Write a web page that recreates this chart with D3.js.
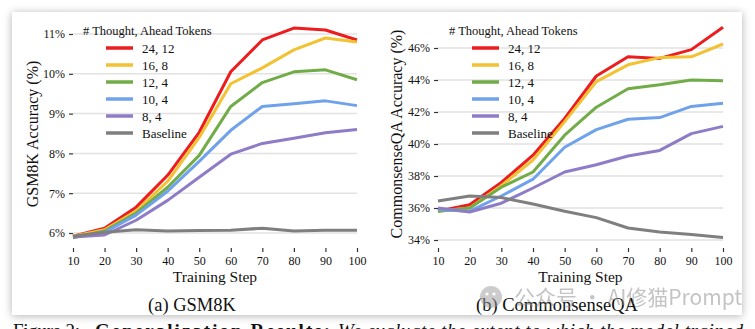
<!DOCTYPE html>
<html>
<head>
<meta charset="utf-8">
<script src="https://cdn.jsdelivr.net/npm/d3@7"></script>
<style>
  body { margin: 0; background: #fff; }
  svg { display: block; }
  .serif { font-family: "Liberation Serif", "Times New Roman", serif; fill: #111; }
</style>
</head>
<body>
<div id="chart"></div>
<script>
var steps = [10, 20, 30, 40, 50, 60, 70, 80, 90, 100];
var seriesNames = ['24, 12', '16, 8', '12, 4', '10, 4', '8, 4', 'Baseline'];

// GSM8K accuracy (%)
var gsm_24_12 = [5.92, 6.12, 6.65, 7.45, 8.53, 10.05, 10.85, 11.15, 11.1, 10.85];
var gsm_16_8 = [5.92, 6.08, 6.55, 7.3, 8.4, 9.75, 10.15, 10.6, 10.9, 10.8];
var gsm_12_4 = [5.88, 6.05, 6.5, 7.15, 7.95, 9.18, 9.78, 10.05, 10.1, 9.85];
var gsm_10_4 = [5.9, 6.02, 6.45, 7.05, 7.8, 8.58, 9.18, 9.25, 9.32, 9.2];
var gsm_8_4 = [5.9, 5.95, 6.32, 6.82, 7.4, 7.98, 8.25, 8.38, 8.52, 8.6];
var gsm_base = [5.92, 6.02, 6.08, 6.05, 6.06, 6.07, 6.12, 6.05, 6.07, 6.07];
var gsmTicks = [6, 7, 8, 9, 10, 11];

// CommonsenseQA accuracy (%)
var csqa_24_12 = [35.8, 36.2, 37.6, 39.3, 41.6, 44.25, 45.45, 45.35, 45.9, 47.3];
var csqa_16_8 = [35.8, 36.0, 37.4, 39.0, 41.4, 43.9, 44.95, 45.4, 45.45, 46.25];
var csqa_12_4 = [35.8, 36.0, 37.3, 38.25, 40.55, 42.3, 43.45, 43.7, 44.0, 43.95];
var csqa_10_4 = [35.9, 35.8, 36.75, 37.8, 39.8, 40.9, 41.55, 41.65, 42.35, 42.55];
var csqa_8_4 = [36.0, 35.75, 36.3, 37.25, 38.25, 38.7, 39.25, 39.6, 40.65, 41.1];
var csqa_base = [36.44, 36.75, 36.65, 36.25, 35.8, 35.4, 34.75, 34.5, 34.35, 34.15];
var csqaTicks = [34, 36, 38, 40, 42, 44, 46];

var colors = ['#ec1c1f', '#f2c232', '#72ac48', '#6fa2ea', '#8f7cc6', '#7f7f7f'];

var W = 755, H = 329;

var svg = d3.select('#chart').append('svg')
    .attr('width', W)
    .attr('height', H);

var defs = svg.append('defs');
var shadow = defs.append('filter').attr('id', 'shadow')
    .attr('x', '-10%').attr('y', '-10%').attr('width', '120%').attr('height', '130%');
shadow.append('feDropShadow')
    .attr('dx', 0).attr('dy', 1)
    .attr('stdDeviation', 4)
    .attr('flood-color', '#000')
    .attr('flood-opacity', 0.3);

// figure card
svg.append('rect')
    .attr('x', 12).attr('y', 12)
    .attr('width', 730).attr('height', 303)
    .attr('fill', '#fff')
    .attr('filter', 'url(#shadow)');

function drawPanel(opts) {
    var x = d3.scaleLinear().domain([10, 100]).range([opts.x0, opts.x1]);
    var y = d3.scaleLinear().domain(opts.domain).range([opts.y0, opts.y1]);
    var g = svg.append('g');

    // horizontal grid
    g.selectAll('.grid').data(opts.ticks).enter().append('line')
        .attr('x1', opts.x0).attr('x2', opts.x1)
        .attr('y1', function(d) { return y(d); })
        .attr('y2', function(d) { return y(d); })
        .attr('stroke', '#e2e2e2')
        .attr('stroke-width', 1.5);

    // y axis: ticks + labels, no domain line
    var yAxis = d3.axisLeft(y)
        .tickValues(opts.ticks)
        .tickSize(4)
        .tickPadding(4)
        .tickFormat(function(d) { return d + '%'; });
    var ya = g.append('g').attr('transform', 'translate(' + opts.x0 + ',0)').call(yAxis);
    ya.select('.domain').remove();
    ya.selectAll('line').attr('stroke', '#333').attr('stroke-width', 1.2);
    ya.selectAll('text').attr('class', 'serif').attr('font-size', '12px').attr('fill', '#111');

    // x axis sits a little below the plotting area
    var xAxis = d3.axisBottom(x)
        .tickValues(steps)
        .tickSize(4)
        .tickPadding(4);
    var xa = g.append('g').attr('transform', 'translate(0,' + opts.xAxisY + ')').call(xAxis);
    xa.select('.domain').remove();
    xa.selectAll('line').attr('stroke', '#333').attr('stroke-width', 1.2);
    xa.selectAll('text').attr('class', 'serif').attr('font-size', '12px').attr('fill', '#111');

    var line = d3.line()
        .x(function(d, i) { return x(steps[i]); })
        .y(function(d) { return y(d); });

    g.selectAll('.series').data(opts.series).enter().append('path')
        .attr('d', function(d) { return line(d); })
        .attr('fill', 'none')
        .attr('stroke', function(d, i) { return colors[i]; })
        .attr('stroke-width', 3)
        .attr('stroke-linejoin', 'round');

    // legend
    var lg = g.append('g');
    lg.append('text')
        .attr('class', 'serif')
        .attr('x', opts.legendX).attr('y', 35)
        .attr('font-size', '12.5px')
        .text('# Thought, Ahead Tokens');
    var rows = lg.selectAll('.row').data(seriesNames).enter().append('g')
        .attr('transform', function(d, i) { return 'translate(' + (opts.legendX + 23) + ',' + (48 + i * 17) + ')'; });
    rows.append('line')
        .attr('x1', 0).attr('x2', 27)
        .attr('stroke', function(d, i) { return colors[i]; })
        .attr('stroke-width', 3.5);
    rows.append('text')
        .attr('class', 'serif')
        .attr('x', 36).attr('y', 4.5)
        .attr('font-size', '13px')
        .text(function(d) { return d; });

    // axis titles
    g.append('text')
        .attr('class', 'serif')
        .attr('font-size', '16px')
        .attr('text-anchor', 'middle')
        .attr('transform', 'translate(' + opts.yTitleX + ',' + 134 + ') rotate(-90)')
        .text(opts.yTitle);
    g.append('text')
        .attr('class', 'serif')
        .attr('font-size', '15.5px')
        .attr('text-anchor', 'middle')
        .attr('x', (opts.x0 + opts.x1) / 2).attr('y', 282)
        .text('Training Step');
    g.append('text')
        .attr('class', 'serif')
        .attr('font-size', '18.5px')
        .attr('text-anchor', 'middle')
        .attr('x', opts.captionX).attr('y', 311)
        .text(opts.caption);
}

drawPanel({
    x0: 73, x1: 357, y0: 233, y1: 34,
    domain: [6, 11],
    ticks: gsmTicks,
    xAxisY: 248,
    series: [gsm_24_12, gsm_16_8, gsm_12_4, gsm_10_4, gsm_8_4, gsm_base],
    legendX: 83,
    yTitle: 'GSM8K Accuracy (%)',
    yTitleX: 38,
    caption: '(a) GSM8K',
    captionX: 192
});

drawPanel({
    x0: 438, x1: 723, y0: 240, y1: 48,
    domain: [34, 46],
    ticks: csqaTicks,
    xAxisY: 248,
    series: [csqa_24_12, csqa_16_8, csqa_12_4, csqa_10_4, csqa_8_4, csqa_base],
    legendX: 449,
    yTitle: 'CommonsenseQA Accuracy (%)',
    yTitleX: 402,
    caption: '(b) CommonsenseQA',
    captionX: 557
});

// figure caption below the card, cut by the page bottom
svg.append('text')
    .attr('class', 'serif')
    .attr('x', 13).attr('y', 337)
    .attr('font-size', '19px')
    .attr('textLength', 67)
    .text('Figure 2:');
svg.append('text')
    .attr('class', 'serif')
    .attr('x', 95).attr('y', 337)
    .attr('font-size', '19px')
    .attr('font-weight', 'bold')
    .attr('textLength', 235)
    .text('Generalization Results:');
svg.append('text')
    .attr('class', 'serif')
    .attr('x', 338).attr('y', 337)
    .attr('font-size', '19px')
    .attr('font-style', 'italic')
    .attr('textLength', 405)
    .text('We evaluate the extent to which the model trained');

// account watermark
var wm = svg.append('g').attr('opacity', 0.5);
wm.append('circle').attr('cx', 491).attr('cy', 297).attr('r', 11).attr('fill', '#9a9a9a');
wm.append('circle').attr('cx', 487).attr('cy', 294).attr('r', 1.6).attr('fill', '#fff');
wm.append('circle').attr('cx', 494).attr('cy', 294).attr('r', 1.6).attr('fill', '#fff');
wm.append('text')
    .attr('x', 514).attr('y', 305)
    .attr('font-family', '"Noto Sans CJK SC", "Noto Sans", sans-serif')
    .attr('font-size', '21px')
    .attr('fill', '#8a8a8a')
    .text('公众号 · AI修猫Prompt');
</script>
</body>
</html>
